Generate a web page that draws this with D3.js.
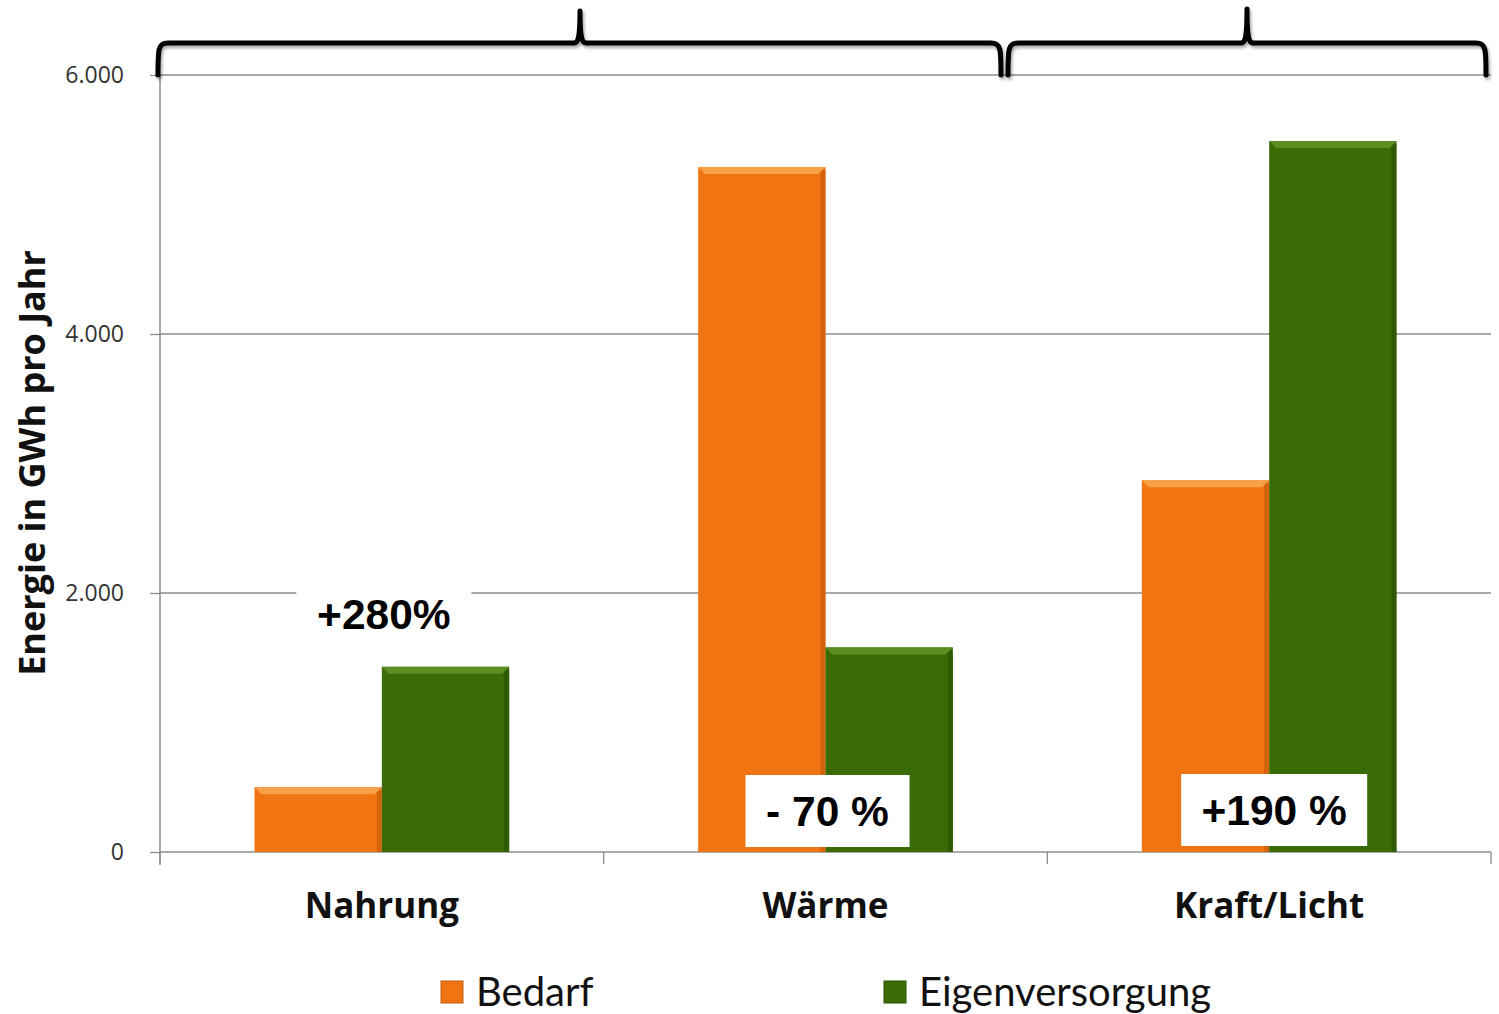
<!DOCTYPE html>
<html>
<head>
<meta charset="utf-8">
<script src="https://cdn.jsdelivr.net/npm/d3@7"></script>
<style>
  body { margin: 0; background: #fff; }
  svg { display: block; }
</style>
</head>
<body>
<svg width="1499" height="1014"></svg>
<script>
// data
const categories = ["Nahrung", "Wärme", "Kraft/Licht"];
const seriesNames = ["Bedarf", "Eigenversorgung"];
const bedarf = [500, 5290, 2870];
const eigenversorgung = [1430, 1580, 5490];
const yTicks = [0, 2000, 4000, 6000];
const changeLabels = ["+280%", "- 70 %", "+190 %"];

const colors = { Bedarf: "#f07512", Eigenversorgung: "#3a6b06" };
const darkColors = { Bedarf: "#c85d08", Eigenversorgung: "#2a5203" };
const lightColors = { Bedarf: "#f8a048", Eigenversorgung: "#5c8f22" };

const svg = d3.select("svg");

// plot area
const plotL = 160, plotR = 1491, plotT = 75, plotB = 852;

const y = d3.scaleLinear().domain([0, 6000]).range([plotB, plotT]);
const x = d3.scaleBand().domain(categories).range([plotL, plotR]).padding(0);
const xInner = d3.scaleBand().domain(seriesNames)
    .range([x.bandwidth() * 0.213, x.bandwidth() * 0.787]).padding(0);

const fmt = v => d3.format(",")(v).replace(/,/g, ".");

// gridlines
svg.append("g")
    .selectAll("line")
    .data(yTicks.filter(d => d > 0))
    .enter().append("line")
        .attr("x1", plotL).attr("x2", plotR)
        .attr("y1", d => y(d)).attr("y2", d => y(d))
        .style("stroke", "#8c8c8c").style("stroke-width", 1.3);

// y axis
const yAxis = svg.append("g")
    .attr("transform", "translate(" + plotL + ",0)")
    .call(d3.axisLeft(y).tickValues(yTicks).tickFormat(fmt).tickSize(10).tickPadding(26));
yAxis.select(".domain").attr("d", "M0," + plotT + "V" + (plotB + 13)).style("stroke", "#8c8c8c").style("stroke-width", 1.5);
yAxis.selectAll(".tick line").style("stroke", "#8c8c8c").style("stroke-width", 1.3);
yAxis.selectAll(".tick text")
    .style("font-family", "'Open Sans', sans-serif")
    .style("font-size", "23px").style("fill", "#333");

// x axis baseline + ticks
const xg = svg.append("g");
xg.append("line").attr("x1", plotL).attr("x2", plotR).attr("y1", plotB).attr("y2", plotB)
    .style("stroke", "#8c8c8c").style("stroke-width", 1.5);
xg.selectAll("line.tk")
    .data(categories.map(c => x(c)).concat([plotR]))
    .enter().append("line").attr("class", "tk")
        .attr("x1", d => d).attr("x2", d => d)
        .attr("y1", plotB).attr("y2", plotB + 12)
        .style("stroke", "#8c8c8c").style("stroke-width", 1.3);
xg.selectAll("text")
    .data(categories)
    .enter().append("text")
        .attr("x", d => x(d) + x.bandwidth() / 2)
        .attr("y", 918)
        .attr("text-anchor", "middle")
        .style("font-family", "'Open Sans', sans-serif")
        .style("font-weight", "bold").style("font-size", "35px").style("fill", "#111")
        .text(d => d);

// y axis title
svg.append("text")
    .attr("transform", "translate(45,463) rotate(-90)")
    .attr("text-anchor", "middle")
    .style("font-family", "'Open Sans', sans-serif")
    .style("font-weight", "bold").style("font-size", "36px").style("fill", "#111")
    .text("Energie in GWh pro Jahr");

// bars
const rows = categories.map((c, i) => ({ cat: c, vals: [
    { key: "Bedarf", value: bedarf[i] },
    { key: "Eigenversorgung", value: eigenversorgung[i] }] }));

const groups = svg.append("g").selectAll("g")
    .data(rows)
    .enter().append("g")
        .attr("transform", d => "translate(" + x(d.cat) + ",0)");

const bars = groups.selectAll("g")
    .data(d => d.vals)
    .enter().append("g");

const bw = xInner.bandwidth();
bars.append("rect")
    .attr("x", d => xInner(d.key))
    .attr("y", d => y(d.value))
    .attr("width", bw)
    .attr("height", d => plotB - y(d.value))
    .style("fill", d => colors[d.key]);
// darker right edge
bars.append("rect")
    .attr("x", d => xInner(d.key) + bw - 5)
    .attr("y", d => y(d.value) + 3)
    .attr("width", 5)
    .attr("height", d => plotB - y(d.value) - 3)
    .style("fill", d => darkColors[d.key]).style("opacity", 0.7);
// bevel top
bars.append("path")
    .attr("d", d => {
        const x0 = xInner(d.key), y0 = y(d.value);
        return "M" + x0 + "," + y0 + "H" + (x0 + bw) + "L" + (x0 + bw - 7) + "," + (y0 + 7) + "H" + (x0 + 7) + "Z";
    })
    .style("fill", d => lightColors[d.key]);

// change labels
const boxes = [
    { w: 175, h: 56, cy: 614, dx: 2 },
    { w: 164, h: 72, cy: 811, dx: 2 },
    { w: 186, h: 72, cy: 810, dx: 5 }
];
const ann = svg.append("g").selectAll("g")
    .data(changeLabels)
    .enter().append("g")
        .attr("transform", (d, i) => "translate(" + (x(categories[i]) + x.bandwidth() / 2 + boxes[i].dx) + "," + boxes[i].cy + ")");
ann.append("rect")
    .attr("x", (d, i) => -boxes[i].w / 2)
    .attr("y", (d, i) => -boxes[i].h / 2)
    .attr("width", (d, i) => boxes[i].w)
    .attr("height", (d, i) => boxes[i].h)
    .style("fill", "#fff");
ann.append("text")
    .attr("text-anchor", "middle")
    .attr("dy", "0.36em")
    .style("font-family", "'Liberation Sans', Arial, sans-serif")
    .style("font-weight", "bold").style("font-size", "42.5px").style("fill", "#000")
    .text(d => d);

// braces on top
const defs = svg.append("defs");
const f = defs.append("filter").attr("id", "shadow").attr("x", "-5%").attr("y", "-50%").attr("width", "110%").attr("height", "200%");
f.append("feDropShadow").attr("dx", 1.5).attr("dy", 2.5).attr("stdDeviation", 1.5).attr("flood-color", "#000").attr("flood-opacity", 0.35);

function brace(x0, x1, xm, yEnd, yMid, yTip) {
    const r = 10;
    return "M" + x0 + "," + yEnd +
        "C" + x0 + "," + (yMid + 6) + " " + x0 + "," + yMid + " " + (x0 + r) + "," + yMid +
        "H" + (xm - 6) +
        "C" + (xm - 1) + "," + yMid + " " + xm + "," + (yMid - 8) + " " + xm + "," + yTip +
        "C" + xm + "," + (yMid - 8) + " " + (xm + 1) + "," + yMid + " " + (xm + 6) + "," + yMid +
        "H" + (x1 - r) +
        "C" + x1 + "," + yMid + " " + x1 + "," + (yMid + 6) + " " + x1 + "," + yEnd;
}
const braceData = [
    { x0: 158, x1: 1001, xm: 580, tip: 11 },
    { x0: 1008, x1: 1486, xm: 1247, tip: 9 }
];
svg.append("g").selectAll("path")
    .data(braceData)
    .enter().append("path")
        .attr("d", d => brace(d.x0, d.x1, d.xm, 75, 43, d.tip))
        .style("fill", "none").style("stroke", "#000").style("stroke-width", 5)
        .style("stroke-linejoin", "round").style("stroke-linecap", "round")
        .attr("filter", "url(#shadow)");

// legend
const legend = svg.append("g").selectAll("g")
    .data(seriesNames)
    .enter().append("g")
        .attr("transform", (d, i) => "translate(" + [441, 884][i] + ",981)");
legend.append("rect")
    .attr("width", 22).attr("height", 22)
    .style("fill", d => colors[d]).style("stroke", d => darkColors[d]).style("stroke-width", 1);
legend.append("text")
    .attr("x", 35).attr("y", 11).attr("dy", "0.36em")
    .style("font-family", "Lato, 'Open Sans', sans-serif")
    .style("font-size", "40px").style("fill", "#111")
    .text(d => d);
</script>
</body>
</html>
